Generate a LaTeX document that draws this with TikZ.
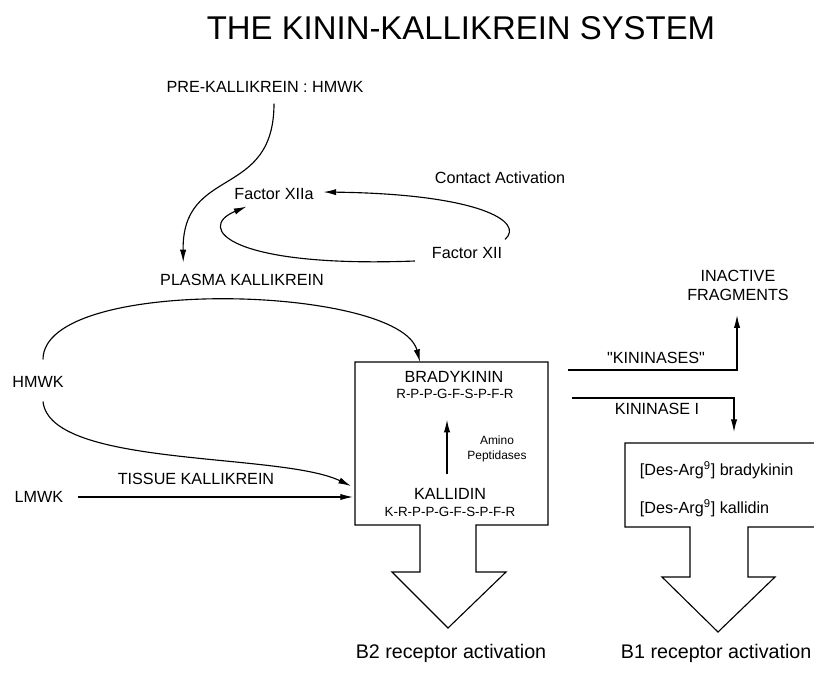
\documentclass[tikz,border=0pt]{standalone}
\usepackage{fontspec}
\setmainfont{Liberation Sans}
\usetikzlibrary{arrows.meta}
\begin{document}
\begin{tikzpicture}[x=0.025cm, y=-0.025cm, line width=0.8pt,
  lbl/.style={font=\fontsize{11.5}{13.5}\selectfont, inner sep=1pt},
  rcpt/.style={font=\fontsize{14}{16}\selectfont, inner sep=1pt},
  pept/.style={font=\fontsize{9.5}{11}\selectfont, inner sep=1pt},
  enz/.style={font=\fontsize{8.5}{10.5}\selectfont, inner sep=1pt, align=center},
  arr/.style={-{Latex[length=9pt,width=4.5pt]}}]
\useasboundingbox (0,0) rectangle (814,678);
\node (title) at (461,28) {\fontsize{23.4}{26}\selectfont THE KININ-KALLIKREIN SYSTEM};
\node[lbl] (prek) at (265,87) {PRE-KALLIKREIN : HMWK};
\node[lbl] (fxiia) at (274,194) {Factor XIIa};
\node[lbl] (contact) at (500,178) {Contact Activation};
\node[lbl] (fxii) at (467,253) {Factor XII};
\node[lbl] (plasma) at (242,280) {PLASMA KALLIKREIN};
\node[lbl] (hmwk) at (38,382) {HMWK};
\node[lbl] (lmwk) at (39,497) {LMWK};
\node[lbl] (tissue) at (196,479) {TISSUE KALLIKREIN};
% kinin box with its receptor arrow
\draw (355,362) -- (548,362) -- (548,525) -- (476,525) -- (476,572) -- (506,572)
  -- (448,628) -- (392,572) -- (420,572) -- (420,525) -- (355,525) -- cycle;
\node[lbl] (brady) at (454,377) {BRADYKININ};
\node[pept] (bseq) at (455,394) {R-P-P-G-F-S-P-F-R};
\node[lbl] (kal) at (450,494) {KALLIDIN};
\node[pept] (kseq) at (450,512) {K-R-P-P-G-F-S-P-F-R};
\node[enz] (amino) at (497,449) {Amino\\Peptidases};
\coordinate (btop) at (420,362);
\coordinate (bside) at (351,486);
\coordinate (bleft) at (353,497);
\coordinate (kout) at (568,370);
\coordinate (kout1) at (572,398);
% des-arg box with its receptor arrow
\draw (830,443) -- (625,443) -- (625,527) -- (690,527) -- (690,577) -- (662,577)
  -- (718,632) -- (775,577) -- (748,577) -- (748,527) -- (830,527);
\node[lbl, anchor=west] (dbrady) at (638,470) {[Des-Arg\textsuperscript{9}] bradykinin};
\node[lbl, anchor=west] (dkal) at (638,508) {[Des-Arg\textsuperscript{9}] kallidin};
\coordinate (b1top) at (734,432);
\node[lbl, align=center] (inact) at (738,285) {INACTIVE\\FRAGMENTS};
\node[lbl] (kinases) at (656,358) {\textquotedbl KININASES\textquotedbl};
\node[lbl] (kinase1) at (657,409) {KININASE I};
\node[rcpt] (b2) at (451,653) {B2 receptor activation};
\node[rcpt, anchor=west] (b1) at (619,653) {B1 receptor activation};
% connectors
\draw[arr] ([shift={(9,9)}]prek.south) .. controls (274,200) and (182,165) .. ([shift={(25,-10)}]plasma.north west);
\draw[arr] ([shift={(-15,8)}]fxii.west) .. controls (230,268) and (195,228) .. ([shift={(14,5)}]fxiia.south west);
\draw[arr] ([shift={(1,-6)}]fxii.north east) .. controls (525,222) and (480,194) .. ([shift={(8,-2)}]fxiia.east);
\draw[arr] ([shift={(5,-15)}]hmwk.north) .. controls (43,275) and (400,285) .. (btop);
\draw[arr] ([shift={(5,12)}]hmwk.south) .. controls (50,468) and (280,452) .. (bside);
\draw[arr] ([shift={(13,0)}]lmwk.east) -- (bleft);
\draw[arr] ([shift={(-3,-12)}]kal.north) -- ([shift={(-8,19)}]bseq.south);
\draw[arr] (kout) -| ([shift={(-1,13)}]inact.south);
\draw[arr] (kout1) -| (b1top);
\end{tikzpicture}
\end{document}
